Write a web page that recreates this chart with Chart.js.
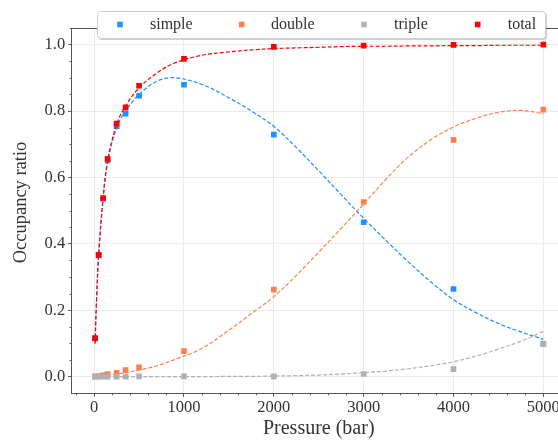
<!DOCTYPE html>
<html><head><meta charset="utf-8">
<script src="https://cdn.jsdelivr.net/npm/chart.js@4"></script>
<style>html,body{margin:0;padding:0;overflow:hidden;background:#fff}#wrap{width:572px;height:442px;position:relative}</style>
</head><body><div id="wrap"><canvas id="c"></canvas></div>
<script>
// measured data points
const pressure = [10, 50, 100, 150, 250, 350, 500, 1000, 2000, 3000, 4000, 5000];
const simple = [0.115, 0.365, 0.535, 0.651, 0.754, 0.792, 0.846, 0.879, 0.729, 0.465, 0.264, 0.098];
const double = [0.001, 0.002, 0.004, 0.008, 0.012, 0.020, 0.028, 0.077, 0.262, 0.526, 0.713, 0.804];
const triple = [0.000, 0.000, 0.000, 0.000, 0.000, 0.000, 0.001, 0.001, 0.001, 0.008, 0.023, 0.098];
const total  = [0.116, 0.367, 0.538, 0.656, 0.762, 0.811, 0.876, 0.957, 0.993, 0.997, 0.999, 1.000];

// fitted curves
const fitPressure = [10, 25, 50, 100, 150, 250, 350, 500, 700, 900, 1200, 1500, 1750, 2000, 2250, 2500, 2750, 3000, 3250, 3500, 3750, 4000, 4250, 4500, 4750, 5000];
const simpleFit = [0.100, 0.220, 0.365, 0.535, 0.645, 0.750, 0.800, 0.850, 0.890, 0.900, 0.880, 0.840, 0.800, 0.754, 0.690, 0.620, 0.548, 0.477, 0.410, 0.345, 0.285, 0.232, 0.193, 0.160, 0.135, 0.113];
const doubleFit = [0.000, 0.001, 0.002, 0.003, 0.005, 0.008, 0.012, 0.020, 0.033, 0.052, 0.085, 0.140, 0.190, 0.241, 0.305, 0.375, 0.447, 0.520, 0.595, 0.662, 0.714, 0.752, 0.778, 0.796, 0.802, 0.792];
const tripleFit = [0.000, 0.000, 0.000, 0.000, 0.000, 0.000, 0.000, 0.000, 0.000, 0.000, 0.000, 0.001, 0.001, 0.002, 0.003, 0.005, 0.008, 0.012, 0.017, 0.024, 0.033, 0.045, 0.062, 0.083, 0.107, 0.136];
const totalFit  = [0.100, 0.220, 0.367, 0.540, 0.650, 0.760, 0.815, 0.870, 0.915, 0.945, 0.968, 0.978, 0.984, 0.988, 0.990, 0.992, 0.994, 0.995, 0.995, 0.996, 0.996, 0.997, 0.997, 0.998, 0.998, 0.998];

const seriesNames = ['simple', 'double', 'triple', 'total'];
const seriesColors = ['#1e90ff', '#ff7f50', '#b0b0b0', '#ff0000'];

const xTicks = [0, 1000, 2000, 3000, 4000, 5000];
const yTicks = [0.0, 0.2, 0.4, 0.6, 0.8, 1.0];
const xTickLabels = ['0', '1000', '2000', '3000', '4000', '5000'];
const yTickLabels = ['0.0', '0.2', '0.4', '0.6', '0.8', '1.0'];
const xTitle = 'Pressure (bar)';
const yTitle = 'Occupancy ratio';

const FONT = "'Liberation Serif', 'Times New Roman', serif";
const TXT = '#333333';

const pts = [simple, double, triple, total];
const fits = [simpleFit, doubleFit, tripleFit, totalFit];
const datasets = [];
seriesNames.forEach((name, k) => {
  datasets.push({
    label: name + ' fit',
    data: fitPressure.map((p, i) => ({x: p, y: fits[k][i]})),
    showLine: true, borderColor: seriesColors[k], borderWidth: 1.2,
    borderDash: [4, 2], pointRadius: 0, fill: false,
    tension: 0.35, order: 8 - 2 * k
  });
  datasets.push({
    label: name,
    isLegend: true,
    data: pressure.map((p, i) => ({x: p, y: pts[k][i]})),
    showLine: false, backgroundColor: seriesColors[k], borderColor: seriesColors[k],
    pointStyle: 'rect', pointRadius: 4, pointBorderWidth: 0, order: 7 - 2 * k
  });
});

const decor = {
  id: 'decor',
  afterDraw(chart) {
    const ctx = chart.ctx, a = chart.chartArea;
    const xs = chart.scales.x, ys = chart.scales.y;
    ctx.save();
    ctx.strokeStyle = '#555'; ctx.lineWidth = 1;
    // top spine
    ctx.beginPath(); ctx.moveTo(a.left, Math.round(a.top) + 0.5); ctx.lineTo(a.right, Math.round(a.top) + 0.5); ctx.stroke();
    // minor ticks
    ctx.beginPath();
    for (let v = -200; v <= 5200; v += 200) {
      if (v % 1000 === 0) continue;
      const px = Math.round(xs.getPixelForValue(v)) + 0.5;
      ctx.moveTo(px, a.bottom); ctx.lineTo(px, a.bottom + 2);
    }
    for (let k = 0; k <= 21; k++) {
      if (k % 4 === 0) continue;
      const py = Math.round(ys.getPixelForValue(k * 0.05)) + 0.5;
      ctx.moveTo(a.left, py); ctx.lineTo(a.left - 2, py);
    }
    ctx.stroke();
    // y axis title
    ctx.save();
    ctx.translate(20.7, 202.5); ctx.rotate(-Math.PI / 2);
    ctx.font = '18.5px ' + FONT; ctx.fillStyle = TXT;
    ctx.textAlign = 'center'; ctx.textBaseline = 'middle';
    ctx.fillText(yTitle, 0, 0);
    ctx.restore();
    // legend
    const L = 97.5, T = 11.5, W = 448, H = 27, R = 3;
    ctx.fillStyle = 'rgba(0,0,0,0.18)';
    ctx.beginPath(); ctx.roundRect(L + 1.5, T + 1.5, W, H, R); ctx.fill();
    ctx.fillStyle = '#ffffff'; ctx.strokeStyle = '#cfcfcf';
    ctx.beginPath(); ctx.roundRect(L, T, W, H, R); ctx.fill(); ctx.stroke();
    const markerX = [120, 241.7, 364, 477.7];
    const textX = [150, 271, 394, 507.7];
    const cy = 24.5;
    const legendSets = chart.data.datasets.filter(d => d.isLegend);
    ctx.font = '16px ' + FONT; ctx.textBaseline = 'middle'; ctx.textAlign = 'left';
    legendSets.forEach((d, i) => {
      ctx.fillStyle = d.backgroundColor;
      ctx.fillRect(markerX[i] - 2.8, cy - 2.8, 5.6, 5.6);
      ctx.fillStyle = TXT;
      ctx.fillText(d.label, textX[i], cy);
    });
    ctx.restore();
  }
};

new Chart(document.getElementById('c'), {
  type: 'scatter',
  data: {datasets},
  options: {
    responsive: true, maintainAspectRatio: false, animation: false,
    layout: {padding: {left: 0, top: 28, right: 6.2, bottom: 0}},
    plugins: {legend: {display: false}, tooltip: {enabled: false}},
    scales: {
      x: {
        type: 'linear', min: -250, max: 5250,
        afterBuildTicks: s => { s.ticks = xTicks.map(v => ({value: v})); },
        afterFit: s => { s.height = 48.7; },
        ticks: {callback: (v) => xTickLabels[xTicks.indexOf(v)], font: {family: FONT, size: 16.5}, color: TXT, padding: 1, maxRotation: 0},
        grid: {color: '#ebebeb', lineWidth: 1, tickColor: '#555', tickLength: 3.5},
        border: {display: true, color: '#555', width: 1},
        title: {display: true, text: xTitle, font: {family: FONT, size: 20}, color: TXT, padding: {top: 0, bottom: 1.5}}
      },
      y: {
        type: 'linear', min: -0.05, max: 1.05,
        afterBuildTicks: s => { s.ticks = yTicks.map(v => ({value: v})); },
        afterFit: s => { s.width = 71.7; },
        ticks: {callback: (v) => yTickLabels[yTicks.indexOf(v)], font: {family: FONT, size: 16.5}, color: TXT, padding: 3},
        grid: {color: '#ebebeb', lineWidth: 1, tickColor: '#555', tickLength: 3.5},
        border: {display: true, color: '#555', width: 1},
        title: {display: false}
      }
    }
  },
  plugins: [decor]
});
</script></body></html>
